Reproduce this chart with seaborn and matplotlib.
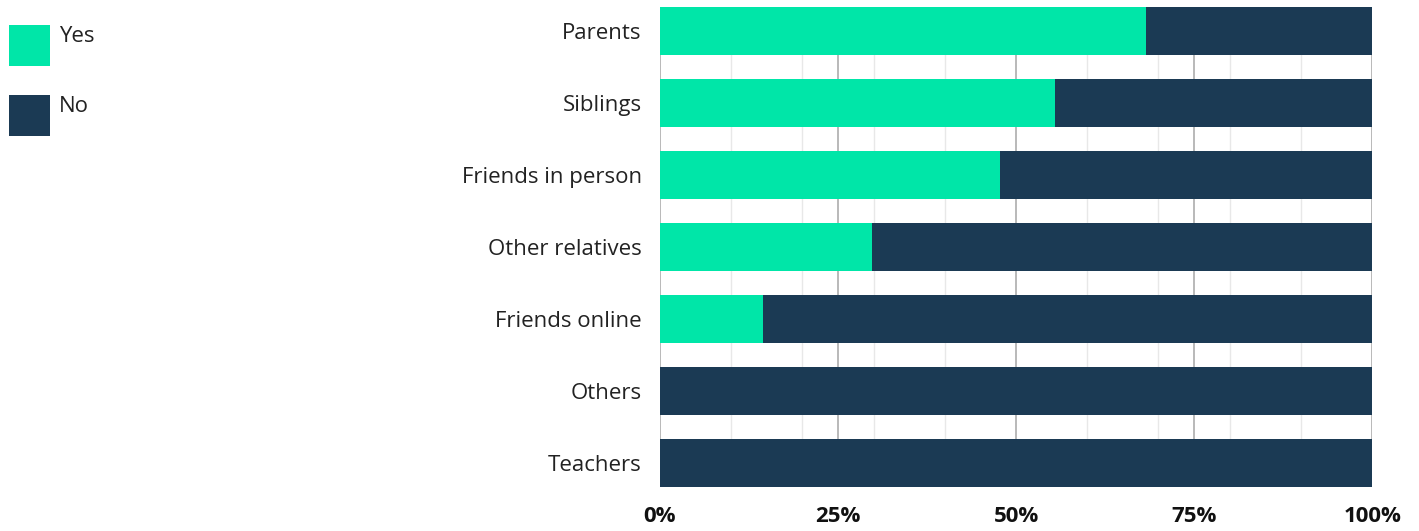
import matplotlib
matplotlib.use("Agg")
import matplotlib.pyplot as plt
from matplotlib.patches import Rectangle
from matplotlib.ticker import MultipleLocator, FuncFormatter
import seaborn as sns
import pandas as pd

# Share of respondents answering "Yes" per group (percent)
categories = ["Parents", "Siblings", "Friends in person", "Other relatives",
              "Friends online", "Others", "Teachers"]
yes_pct = [68.3, 55.5, 47.8, 29.8, 14.5, 0.0, 0.0]
no_pct = [100 - v for v in yes_pct]
legend_labels = ["Yes", "No"]

YES_COLOR = "#00E6A8"
NO_COLOR = "#1B3A54"

sns.set_theme(style="white")
plt.rcParams["font.family"] = ["Open Sans", "DejaVu Sans"]

df = pd.DataFrame({"category": categories, "yes": yes_pct, "no": no_pct})
df["total"] = df["yes"] + df["no"]

fig = plt.figure(figsize=(14.19, 5.31), dpi=100)
ax = fig.add_axes([0.465, 0.0829, 0.502, 0.9039])

# stacked bars: full length (yes + no) in navy, yes part in green on top
sns.barplot(data=df, y="category", x="total", color=NO_COLOR, orient="h",
            width=0.667, saturation=1, linewidth=0, ax=ax, zorder=2)
sns.barplot(data=df, y="category", x="yes", color=YES_COLOR, orient="h",
            width=0.667, saturation=1, linewidth=0, ax=ax, zorder=3)

ax.set_xlim(0, 100)
ax.set_ylim(len(categories) - 1 + 0.3335, -0.3335)

ax.xaxis.set_major_locator(MultipleLocator(25))
ax.xaxis.set_minor_locator(MultipleLocator(10))
ax.xaxis.set_major_formatter(FuncFormatter(lambda v, _: f"{v:.0f}%"))
ax.grid(axis="x", which="major", color="#b3b3b3", linewidth=1.3, zorder=0)
ax.grid(axis="x", which="minor", color="#e8e8e8", linewidth=1.0, zorder=0)
ax.set_axisbelow(True)

for s in ax.spines.values():
    s.set_visible(False)

ax.set_xlabel("")
ax.set_ylabel("")
ax.tick_params(axis="x", which="both", length=0, pad=14)
ax.tick_params(axis="y", length=0, pad=13)
for t in ax.get_xticklabels():
    t.set_fontsize(16)
    t.set_fontweight("bold")
    t.set_color("#111111")
for t in ax.get_yticklabels():
    t.set_fontsize(16)
    t.set_color("#222222")
    t.set_verticalalignment("center_baseline")

# legend: colour squares with labels beside them
W, H = 1419, 531
for i, (lab, col) in enumerate(zip(legend_labels, [YES_COLOR, NO_COLOR])):
    top = 25 + i * 70
    fig.patches.append(Rectangle((9 / W, 1 - (top + 41) / H), 41 / W, 41 / H,
                                 transform=fig.transFigure, color=col,
                                 linewidth=0))
    fig.text(59 / W, 1 - (top + 11) / H, lab, fontsize=16, color="#222222",
             va="center", ha="left")

fig.savefig("out.png", dpi=100)
